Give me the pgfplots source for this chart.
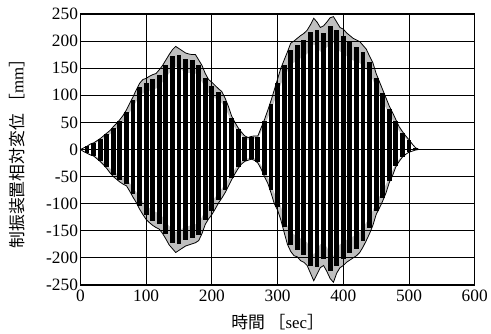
\documentclass[border=0pt]{standalone}
\usepackage{fontspec}
\setmainfont{Liberation Serif}
\newfontfamily\numfont{Liberation Serif}
\newfontfamily\jp{Noto Sans CJK JP}
\usepackage{pgfplots}
\pgfplotsset{compat=1.18}
\usepackage{pgfplotstable}
\usepgfplotslibrary{fillbetween}
\pgfplotstableread{
t up lo
0 0 0
5 3 -4
10 6 -7
15 10 -10
20 12 -12
25 16 -17
30 20 -22
35 25 -28
40 30 -35
45 35 -43
50 42 -50
55 48 -55
60 55 -60
65 63 -64
70 73 -67
75 85 -77
80 97 -88
85 110 -98
90 122 -110
95 129 -120
100 131 -129
105 135 -135
110 138 -140
115 140 -144
120 147 -147
125 155 -155
130 165 -165
135 175 -176
140 184 -183
145 190 -190
150 186 -186
155 182 -182
160 178 -178
165 176 -176
170 175 -174
175 175 -172
180 165 -168
185 155 -155
190 140 -138
195 129 -128
200 124 -120
205 118 -110
210 112 -99
215 107 -90
220 95 -80
225 80 -68
230 62 -56
235 50 -45
240 40 -35
245 32 -27
250 25 -22
255 22 -20
260 24 -18
265 25 -20
270 25 -25
275 40 -36
280 55 -50
285 72 -62
290 90 -80
295 110 -100
300 130 -112
305 150 -130
310 165 -153
315 180 -175
320 196 -188
325 200 -196
330 205 -198
335 210 -205
340 214 -208
345 220 -214
350 230 -228
355 242 -242
360 235 -230
365 225 -218
370 228 -214
375 235 -225
380 243 -238
385 245 -245
390 235 -228
395 225 -218
400 222 -214
405 215 -208
410 210 -204
415 205 -200
420 202 -196
425 199 -190
430 192 -180
435 185 -168
440 172 -155
445 160 -140
450 140 -120
455 125 -108
460 110 -95
465 95 -80
470 80 -61
475 68 -48
480 55 -32
485 42 -22
490 33 -14
495 25 -9
500 18 -5
505 10 -3
510 3 -1
515 0 0
}\env
\begin{document}
\begin{tikzpicture}
\begin{axis}[
  scale only axis, width=397bp, height=273bp,
  xmin=0, xmax=600, ymin=-250, ymax=250,
  xtick={0,100,...,600}, ytick={-250,-200,...,250},
  grid=major, grid style={black, line width=1pt},
  axis line style={line width=1.5pt},
  tick style={draw=none},
  axis on top,
  /pgf/number format/assume math mode=true,
  tick label style={font=\numfont\fontsize{17.5}{18}\selectfont},
  xticklabel style={yshift=-1bp},
  yticklabel style={xshift=1bp},
  xlabel={\fontsize{17}{18}\selectfont{\jp 時間 ［}{\numfont sec}{\jp ］}},
  ylabel={\fontsize{17}{18}\selectfont{\jp 制振装置相対変位 ［}{\numfont mm}{\jp ］}},
  xlabel style={at={(axis description cs:0.5,0)}, anchor=center, yshift=-37bp},
  ylabel style={at={(axis description cs:0,0.5)}, anchor=center, yshift=64bp},
]
\addplot[name path=U, black, line width=0.8pt] table[x=t, y=up]{\env};
\addplot[name path=L, black, line width=0.8pt] table[x=t, y=lo]{\env};
\addplot[gray!50] fill between[of=U and L];
\addplot[name path=U2, draw=none] table[x=t, y expr=0.8*\thisrow{up}]{\env};
\addplot[name path=L2, draw=none] table[x=t, y expr=0.8*\thisrow{lo}]{\env};
\addplot[white] fill between[of=U2 and L2];
\addplot[ycomb, black, line width=5bp, mark=none, each nth point=2] table[x=t, y expr=0.94*\thisrow{up}]{\env};
\addplot[ycomb, black, line width=5bp, mark=none, each nth point=2] table[x=t, y expr=0.94*\thisrow{lo}]{\env};
\end{axis}
\path[use as bounding box] (current axis.south west) ++(-81bp,-49bp) rectangle ++(491bp,336bp);
\end{tikzpicture}
\end{document}
